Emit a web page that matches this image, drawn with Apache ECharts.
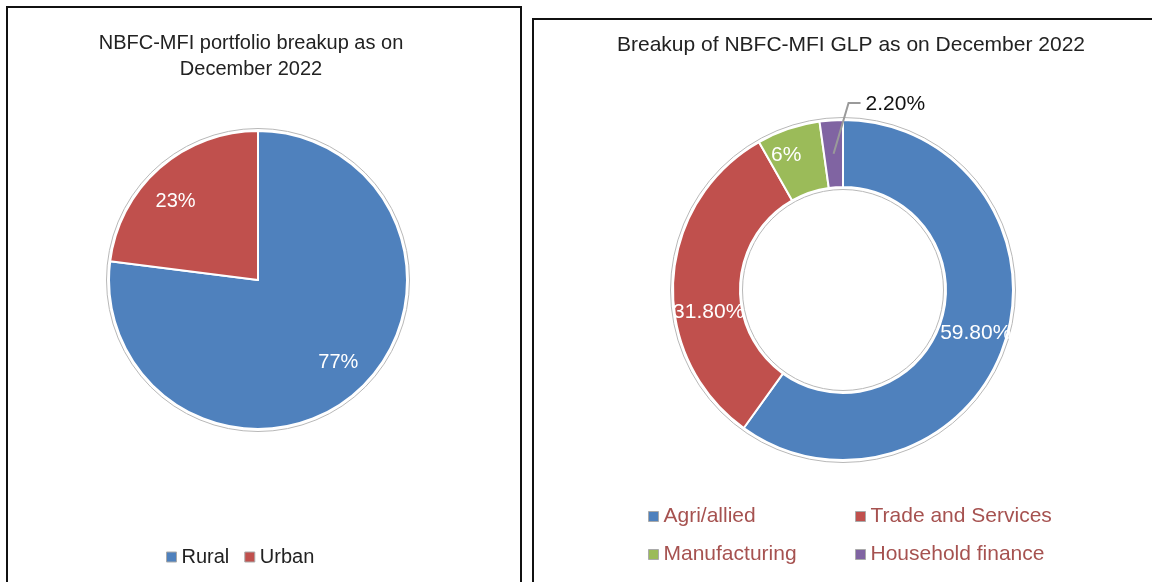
<!DOCTYPE html>
<html lang="en">
<head>
<meta charset="UTF-8">
<title>NBFC-MFI portfolio</title>
<script src="https://cdn.jsdelivr.net/npm/echarts@6/dist/echarts.min.js"></script>
<style>
  html, body { margin: 0; padding: 0; background: #fff; }
  #main { width: 1152px; height: 582px; }
</style>
</head>
<body>
<div id="main"></div>
<script>
// left pie: portfolio by geography
var geoNames = ['Rural', 'Urban'];
var geoValues = [77, 23];
var geoLabels = ['77%', '23%'];
// right donut: GLP by purpose
var glpNames = ['Agri/allied', 'Trade and Services', 'Manufacturing', 'Household finance'];
var glpValues = [59.8, 31.8, 6, 2.2];
var glpLabels = ['59.80%', '31.80%', '6%', '2.20%'];

var colors = ['#4f81bd', '#c0504d', '#9bbb59', '#8064a2'];
var font = 'Liberation Sans, Arial, sans-serif';

var leftC = [258, 280], leftR = 149;
var rightC = [843, 290], rightR = [103, 170];

function pack(names, values, labels) {
    var out = [];
    for (var i = 0; i < names.length; i++) {
        out.push({ name: names[i], value: values[i], lbl: labels[i], itemStyle: { color: colors[i] } });
    }
    return out;
}
var geoData = pack(geoNames, geoValues, geoLabels);
var glpData = pack(glpNames, glpValues, glpLabels);

function ring(c, r) {
    return { type: 'circle', z: -1, shape: { cx: c[0], cy: c[1], r: r }, style: { fill: 'none', stroke: '#b8b8b8', lineWidth: 1 } };
}

// leader line for the small household-finance slice, starting mid-ring on that slice
var total = glpValues.reduce(function (a, b) { return a + b; }, 0);
var before = glpValues[0] + glpValues[1] + glpValues[2];
var ang = 2 * Math.PI * (before + glpValues[3] / 2) / total;
var midR = (rightR[0] + rightR[1]) / 2;
var p0 = [rightC[0] + Math.sin(ang) * midR, rightC[1] - Math.cos(ang) * midR];
var p1 = [p0[0] + 15, rightC[1] - rightR[1] - 17];
var p2 = [p1[0] + 12, p1[1]];

var legendBase = {
    padding: 0, itemWidth: 10, itemHeight: 10, icon: 'rect',
    itemStyle: { borderColor: '#aaa', borderWidth: 1 }
};

var chart = echarts.init(document.getElementById('main'));
var option = {
    color: colors,
    animation: false,
    title: [{
        text: 'NBFC-MFI portfolio breakup as on\nDecember 2022',
        left: 246, top: 25, textAlign: 'center',
        textStyle: { fontFamily: font, fontSize: 20, fontWeight: 'normal', color: '#222', lineHeight: 26 }
    }, {
        text: 'Breakup of NBFC-MFI GLP as on December 2022',
        left: 846, top: 30, textAlign: 'center',
        textStyle: { fontFamily: font, fontSize: 21, fontWeight: 'normal', color: '#222' }
    }],
    legend: [
        Object.assign({}, legendBase, {
            data: geoNames, left: 166, top: 547, itemGap: 15,
            textStyle: { fontFamily: font, fontSize: 20, color: '#222' }
        }),
        Object.assign({}, legendBase, {
            data: [glpNames[0], glpNames[2]], orient: 'vertical', left: 648, top: 506, itemGap: 17,
            textStyle: { fontFamily: font, fontSize: 21, color: '#a65250' }
        }),
        Object.assign({}, legendBase, {
            data: [glpNames[1], glpNames[3]], orient: 'vertical', left: 855, top: 506, itemGap: 17,
            textStyle: { fontFamily: font, fontSize: 21, color: '#a65250' }
        })
    ],
    graphic: [
        { type: 'rect', shape: { x: 7, y: 7, width: 514, height: 620 }, style: { fill: 'none', stroke: '#111', lineWidth: 2 } },
        { type: 'rect', shape: { x: 533, y: 19, width: 660, height: 620 }, style: { fill: 'none', stroke: '#111', lineWidth: 2 } },
        ring(leftC, leftR + 2.5),
        ring(rightC, rightR[1] + 2.5),
        ring(rightC, rightR[0] - 2.5),
        { type: 'polyline', z: 100, shape: { points: [p0, p1, p2] }, style: { fill: 'none', stroke: '#9a9a9a', lineWidth: 2 } }
    ],
    series: [{
        type: 'pie', center: leftC, radius: [0, leftR], startAngle: 90, clockwise: true,
        itemStyle: { borderColor: '#fff', borderWidth: 2 },
        label: { show: false }, labelLine: { show: false },
        emphasis: { disabled: true },
        data: geoData
    }, {
        // label carrier so the percentages sit further out, as in the original
        type: 'pie', center: leftC, radius: [82, leftR], startAngle: 90, silent: true,
        itemStyle: { color: 'rgba(0,0,0,0)' },
        label: {
            show: true, position: 'inside', fontFamily: font, fontSize: 20, color: '#fff',
            formatter: function (p) { return p.data.lbl; }
        },
        labelLine: { show: false },
        labelLayout: function (p) {
            return p.dataIndex === 0 ? { dx: 2, dy: -6 } : { dx: -4, dy: 10 };
        },
        data: geoData.map(function (d) { return { name: d.name, value: d.value, lbl: d.lbl }; })
    }, {
        type: 'pie', center: rightC, radius: rightR, startAngle: 90, clockwise: true,
        itemStyle: { borderColor: '#fff', borderWidth: 2 },
        emphasis: { disabled: true },
        label: {
            show: true, position: 'inside', fontFamily: font, fontSize: 21, color: '#fff',
            formatter: function (p) { return p.data.lbl; }
        },
        labelLine: { show: false },
        labelLayout: function (p) {
            if (p.dataIndex === 1) return { dx: 5, dy: 30 };
            if (p.dataIndex === 2) return { dx: -12, dy: -3 };
            if (p.dataIndex === 3) return { x: p2[0] + 5, y: p2[1] + 1, align: 'left', verticalAlign: 'middle' };
            return {};
        },
        data: glpData.map(function (d, i) {
            if (i === 3) {
                return Object.assign({}, d, { label: { position: 'outside', color: '#111' } });
            }
            return d;
        })
    }]
};
chart.setOption(option);
</script>
</body>
</html>
